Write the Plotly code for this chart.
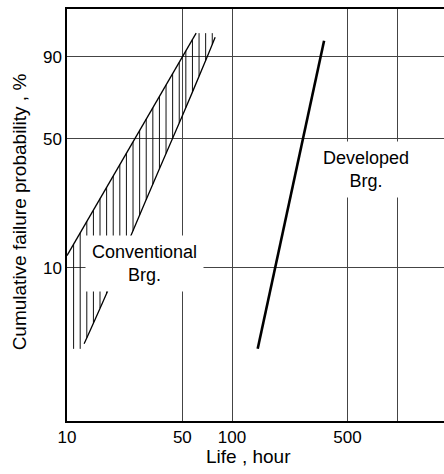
import numpy as np
import plotly.graph_objects as go

# ---- data ----
life_developed = [143, 361]            # hours
prob_developed = [3.16, 94.5]          # cumulative failure probability, %

life_conv_early = [10.0, 60.6]
prob_conv_early = [11.8, 96.1]

life_conv_late = [12.7, 17.5, 24.7, 36.7, 49.7, 70.4, 79.0]
prob_conv_late = [3.40, 7.09, 15.9, 36.8, 61.5, 89.7, 95.3]

band_prob_limits = [3.16, 96.1]        # hatch band lower / upper probability

x_tick_vals = [10, 50, 100, 500, 1000]
x_tick_text = ["10", "50", "100", "500", ""]
y_tick_probs = [10, 50, 90]
y_tick_text = ["10", "50", "90"]


def weib(p):
    p = np.asarray(p, dtype=float) / 100.0
    return np.log(-np.log(1.0 - p))


FONT = "Liberation Sans, Arial, Helvetica, sans-serif"

fig = go.Figure()

# hatch lines of the conventional band
lx_early = np.log10(life_conv_early)
w_early = weib(prob_conv_early)
lx_late = np.log10(life_conv_late)
w_late = weib(prob_conv_late)
w_lo, w_hi = weib(band_prob_limits)

hx, hy = [], []
lx = 1.040
step = 0.040
while lx < lx_late[-1]:
    top = min(np.interp(lx, lx_early, w_early, left=np.inf, right=np.inf), w_hi)
    bot = max(np.interp(lx, lx_late, w_late, left=-np.inf), w_lo)
    if top > bot:
        hx += [10 ** lx, 10 ** lx, None]
        hy += [bot, top, None]
    lx += step

fig.add_trace(go.Scatter(x=hx, y=hy, mode="lines",
                         line=dict(color="#111", width=1), hoverinfo="skip",
                         showlegend=False))

fig.add_trace(go.Scatter(x=life_conv_early, y=weib(prob_conv_early), mode="lines",
                         line=dict(color="black", width=1.3), showlegend=False))
fig.add_trace(go.Scatter(x=life_conv_late, y=weib(prob_conv_late), mode="lines",
                         line=dict(color="black", width=1.3, shape="spline"),
                         showlegend=False))
fig.add_trace(go.Scatter(x=life_developed, y=weib(prob_developed), mode="lines",
                         line=dict(color="black", width=2.6), showlegend=False))

fig.update_layout(
    width=444, height=474,
    margin=dict(l=67, r=0, t=9, b=53),
    paper_bgcolor="white", plot_bgcolor="white",
    font=dict(family=FONT, size=17, color="black"),
    showlegend=False,
    xaxis=dict(type="log", range=[1, 3.284],
               tickvals=x_tick_vals, ticktext=x_tick_text,
               showgrid=True, gridcolor="#444", gridwidth=1.3,
               showline=True, linecolor="black", linewidth=1.5, mirror=True,
               ticks="", zeroline=False, tickfont=dict(size=17)),
    yaxis=dict(range=[float(weib(1.112)), 1.530],
               tickvals=weib(y_tick_probs).tolist(), ticktext=y_tick_text,
               showgrid=True, gridcolor="#444", gridwidth=1.3,
               showline=True, linecolor="black", linewidth=1.5, mirror=False,
               ticks="", zeroline=False, tickfont=dict(size=17)),
)

fig.add_annotation(x=1.467, y=-2.195, xref="x", yref="y",
                   text="Conventional<br>Brg.", showarrow=False,
                   font=dict(size=18), bgcolor="white", borderpad=6)
fig.add_annotation(x=2.812, y=-0.820, xref="x", yref="y",
                   text="Developed<br>Brg.", showarrow=False,
                   font=dict(size=18), bgcolor="white", borderpad=6)

fig.add_annotation(x=-0.125, y=0.5085, xref="paper", yref="paper",
                   xanchor="center", yanchor="middle",
                   text="Cumulative failure probability , %", textangle=-90,
                   showarrow=False, font=dict(size=19))
fig.add_annotation(x=0.4805, y=-0.085, xref="paper", yref="paper",
                   xanchor="center", yanchor="middle",
                   text="Life , hour", showarrow=False, font=dict(size=19))

fig.write_html("out.html",
               config={"displayModeBar": False},
               post_script="document.body.style.margin='0px';"
                           "document.body.style.overflow='hidden';")
